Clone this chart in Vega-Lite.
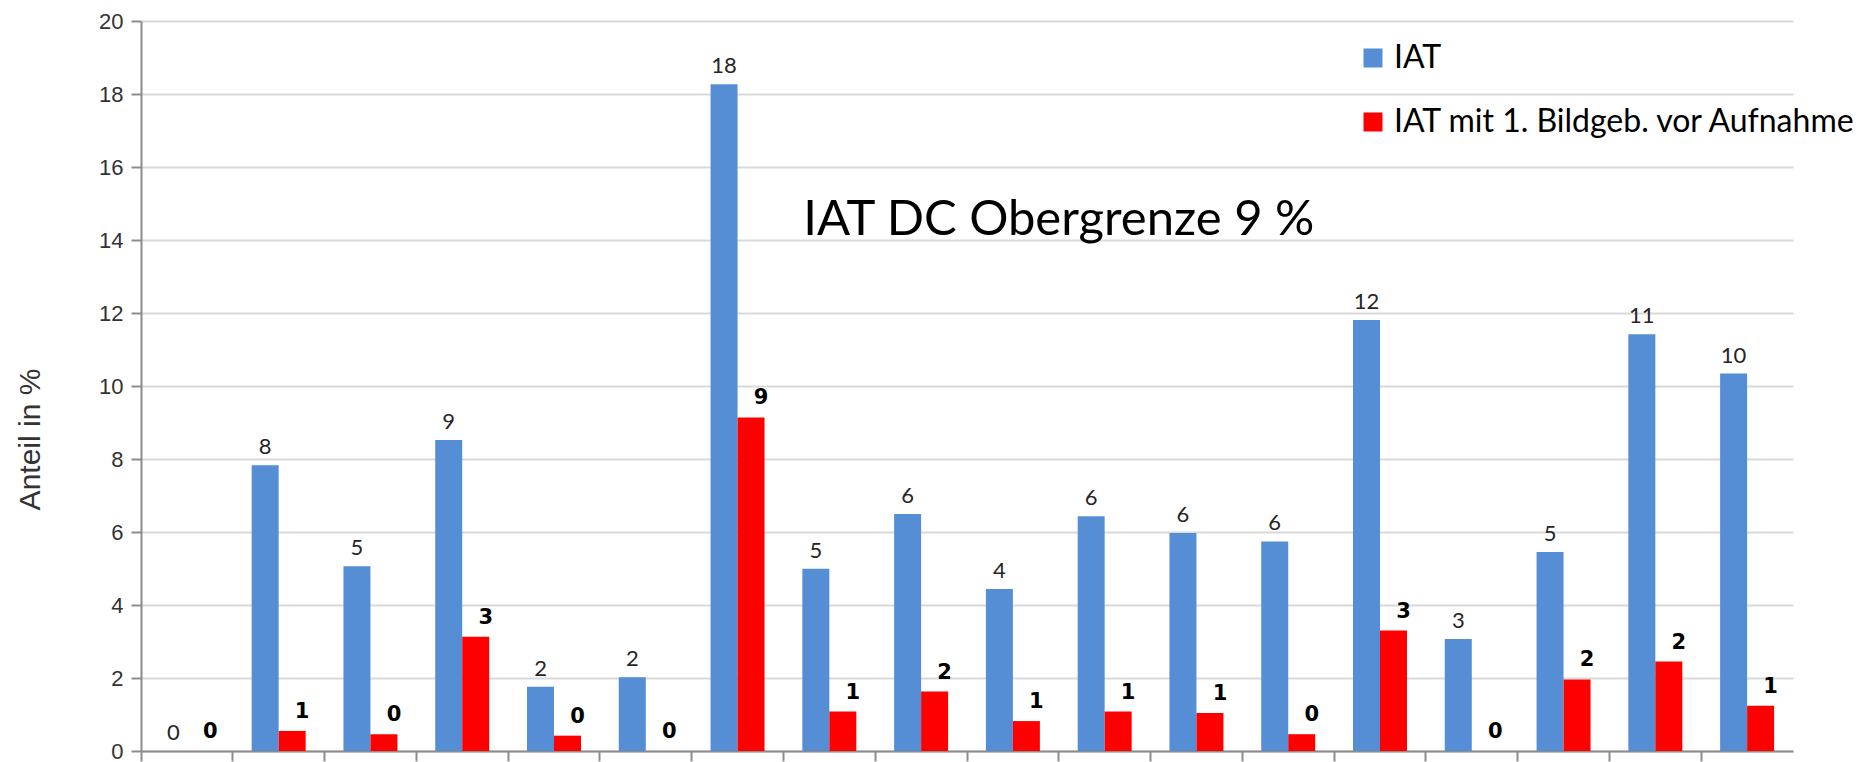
{
  "$schema": "https://vega.github.io/schema/vega-lite/v6.json",
  "width": 1652,
  "height": 730,
  "autosize": {"type": "none"},
  "padding": {"left": 141, "top": 21, "right": 75, "bottom": 11},
  "background": "white",
  "config": {
    "view": {"stroke": null},
    "legend": {
      "orient": "none",
      "legendX": 1216,
      "legendY": 21,
      "symbolType": "square",
      "symbolSize": 361,
      "symbolStrokeWidth": 0,
      "labelFont": "Lato",
      "labelFontSize": 32,
      "labelColor": "#000000",
      "labelOffset": 5,
      "labelLimit": 0,
      "rowPadding": 32,
      "padding": 0,
      "title": null
    }
  },
  "data": {
    "values": [
      {"k": "1", "s": "IAT", "v": 0.0},
      {"k": "1", "s": "IAT mit 1. Bildgeb. vor Aufnahme", "v": 0.0},
      {"k": "2", "s": "IAT", "v": 7.83},
      {"k": "2", "s": "IAT mit 1. Bildgeb. vor Aufnahme", "v": 0.55},
      {"k": "3", "s": "IAT", "v": 5.06},
      {"k": "3", "s": "IAT mit 1. Bildgeb. vor Aufnahme", "v": 0.46},
      {"k": "4", "s": "IAT", "v": 8.52},
      {"k": "4", "s": "IAT mit 1. Bildgeb. vor Aufnahme", "v": 3.13},
      {"k": "5", "s": "IAT", "v": 1.76},
      {"k": "5", "s": "IAT mit 1. Bildgeb. vor Aufnahme", "v": 0.42},
      {"k": "6", "s": "IAT", "v": 2.02},
      {"k": "6", "s": "IAT mit 1. Bildgeb. vor Aufnahme", "v": 0.0},
      {"k": "7", "s": "IAT", "v": 18.27},
      {"k": "7", "s": "IAT mit 1. Bildgeb. vor Aufnahme", "v": 9.14},
      {"k": "8", "s": "IAT", "v": 4.99},
      {"k": "8", "s": "IAT mit 1. Bildgeb. vor Aufnahme", "v": 1.08},
      {"k": "9", "s": "IAT", "v": 6.49},
      {"k": "9", "s": "IAT mit 1. Bildgeb. vor Aufnahme", "v": 1.63},
      {"k": "10", "s": "IAT", "v": 4.44},
      {"k": "10", "s": "IAT mit 1. Bildgeb. vor Aufnahme", "v": 0.82},
      {"k": "11", "s": "IAT", "v": 6.43},
      {"k": "11", "s": "IAT mit 1. Bildgeb. vor Aufnahme", "v": 1.08},
      {"k": "12", "s": "IAT", "v": 5.97},
      {"k": "12", "s": "IAT mit 1. Bildgeb. vor Aufnahme", "v": 1.04},
      {"k": "13", "s": "IAT", "v": 5.74},
      {"k": "13", "s": "IAT mit 1. Bildgeb. vor Aufnahme", "v": 0.46},
      {"k": "14", "s": "IAT", "v": 11.81},
      {"k": "14", "s": "IAT mit 1. Bildgeb. vor Aufnahme", "v": 3.3},
      {"k": "15", "s": "IAT", "v": 3.07},
      {"k": "15", "s": "IAT mit 1. Bildgeb. vor Aufnahme", "v": 0.0},
      {"k": "16", "s": "IAT", "v": 5.45},
      {"k": "16", "s": "IAT mit 1. Bildgeb. vor Aufnahme", "v": 1.96},
      {"k": "17", "s": "IAT", "v": 11.42},
      {"k": "17", "s": "IAT mit 1. Bildgeb. vor Aufnahme", "v": 2.45},
      {"k": "18", "s": "IAT", "v": 10.34},
      {"k": "18", "s": "IAT mit 1. Bildgeb. vor Aufnahme", "v": 1.24}
    ]
  },
  "encoding": {
    "x": {
      "field": "k",
      "type": "nominal",
      "scale": {
        "domain": ["1","2","3","4","5","6","7","8","9","10","11","12","13","14","15","16","17","18"],
        "paddingInner": 0,
        "paddingOuter": 0
      },
      "axis": {
        "title": null,
        "labels": false,
        "bandPosition": 0,
        "ticks": true,
        "tickSize": 10,
        "tickWidth": 2,
        "tickColor": "#8c8c8c",
        "domainColor": "#8c8c8c",
        "domainWidth": 2,
        "grid": false
      }
    },
    "y": {
      "field": "v",
      "type": "quantitative",
      "scale": {"domain": [0, 20], "nice": false},
      "axis": {
        "title": "Anteil in %",
        "titleFont": "Liberation Sans",
        "titleFontSize": 30,
        "titleFontWeight": "normal",
        "titleColor": "#333333",
        "titleX": -111,
        "titleY": 418,
        "titleAlign": "center",
        "titleBaseline": "middle",
        "titleAngle": -90,
        "values": [0, 2, 4, 6, 8, 10, 12, 14, 16, 18, 20],
        "labelFont": "Liberation Sans",
        "labelFontSize": 22,
        "labelColor": "#333333",
        "labelPadding": 8,
        "tickSize": 10,
        "tickWidth": 2,
        "tickColor": "#8c8c8c",
        "domainColor": "#8c8c8c",
        "domainWidth": 2,
        "gridColor": "#d9d9d9",
        "gridWidth": 2
      }
    }
  },
  "layer": [
    {
      "mark": {"type": "bar"},
      "encoding": {
        "xOffset": {
          "field": "s",
          "type": "nominal",
          "scale": {"domain": ["IAT", "IAT mit 1. Bildgeb. vor Aufnahme"], "paddingInner": 0, "paddingOuter": 0.7}
        },
        "color": {
          "field": "s",
          "type": "nominal",
          "scale": {"domain": ["IAT", "IAT mit 1. Bildgeb. vor Aufnahme"], "range": ["#558ED5", "#FF0000"]},
          "legend": {"title": null}
        }
      }
    },
    {
      "transform": [{"filter": "datum.s == 'IAT'"}],
      "mark": {"type": "text", "font": "Lato", "fontSize": 22, "baseline": "alphabetic", "dy": -11, "color": "#262626"},
      "encoding": {
        "xOffset": {"field": "s", "type": "nominal"},
        "text": {"field": "v", "type": "quantitative", "format": ".0f"}
      }
    },
    {
      "transform": [{"filter": "datum.s != 'IAT'"}],
      "mark": {"type": "text", "font": "DejaVu Sans", "fontWeight": "bold", "fontSize": 21, "baseline": "alphabetic", "dy": -13, "dx": 10, "color": "#000000"},
      "encoding": {
        "xOffset": {"field": "s", "type": "nominal"},
        "text": {"field": "v", "type": "quantitative", "format": ".0f"}
      }
    },
    {
      "transform": [{"filter": "datum.k == '11' && datum.s == 'IAT'"}],
      "mark": {"type": "text", "font": "Lato", "fontSize": 49, "baseline": "alphabetic", "align": "center", "color": "#000000"},
      "encoding": {
        "x": {"field": "k", "type": "nominal", "bandPosition": 0},
        "y": {"datum": 14.13, "type": "quantitative"},
        "text": {"value": "IAT DC Obergrenze 9 %"}
      }
    }
  ]
}
